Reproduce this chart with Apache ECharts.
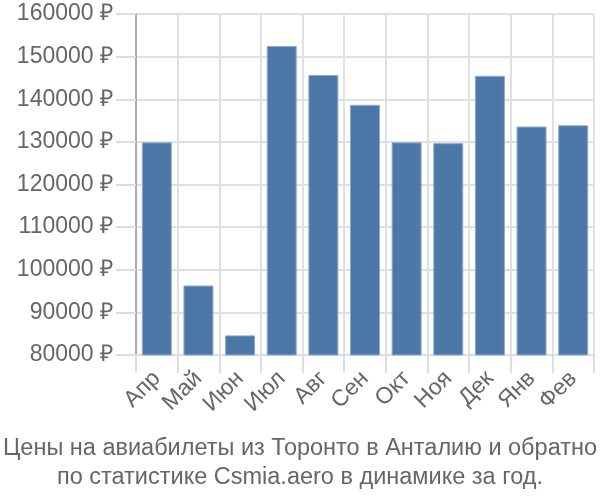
<!DOCTYPE html>
<html><head><meta charset="utf-8">
<script src="https://cdn.jsdelivr.net/npm/echarts@6/dist/echarts.min.js"></script>
<style>html,body{margin:0;padding:0;background:#fff}#c{width:600px;height:500px}</style>
</head><body><div id="c"></div>
<script>
const categories = ['Апр','Май','Июн','Июл','Авг','Сен','Окт','Ноя','Дек','Янв','Фев'];
const prices = [129900, 96300, 84600, 152500, 145700, 138700, 129900, 129700, 145500, 133600, 133900];
const titleLines = ['Цены на авиабилеты из Торонто в Анталию и обратно', 'по статистике Csmia.aero в динамике за год.'];
const yMin = 80000, yMax = 160000, yStep = 10000;

const chart = echarts.init(document.getElementById('c'));
chart.setOption({
  animation: false,
  textStyle: { fontFamily: 'Liberation Sans, Arial, sans-serif' },
  title: {
    text: titleLines.join('\n'),
    left: 'center', top: 429,
    textStyle: { fontSize: 23.5, fontWeight: 'normal', color: '#666', lineHeight: 29, fontFamily: 'Liberation Sans, Arial, sans-serif' }
  },
  grid: { left: 136, right: 6, top: 14, bottom: 145, containLabel: false },
  xAxis: {
    type: 'category', data: categories, boundaryGap: true,
    axisLine: { show: true, lineStyle: { color: '#ddd', width: 2 } },
    axisTick: { show: true, length: 18, interval: 0, lineStyle: { color: '#ddd', width: 2 } },
    splitLine: { show: true, interval: 0, lineStyle: { color: '#e0e0e0', width: 2 } },
    axisLabel: { rotate: 45, interval: 0, fontSize: 23, color: '#666', margin: 20 }
  },
  yAxis: {
    type: 'value', min: yMin, max: yMax, interval: yStep,
    axisLine: { show: true, lineStyle: { color: '#aaa', width: 2 } },
    axisTick: { show: true, length: 20, lineStyle: { color: '#ddd', width: 2 } },
    splitLine: { show: true, lineStyle: { color: '#e0e0e0', width: 2 } },
    axisLabel: { formatter: v => String(v) + ' ₽', fontSize: 23, color: '#666', margin: 23 }
  },
  series: [{
    type: 'bar', data: prices, barWidth: 30,
    itemStyle: { color: '#4c78a8', borderColor: '#8fabcc', borderWidth: 1 }
  }]
});
</script></body></html>
